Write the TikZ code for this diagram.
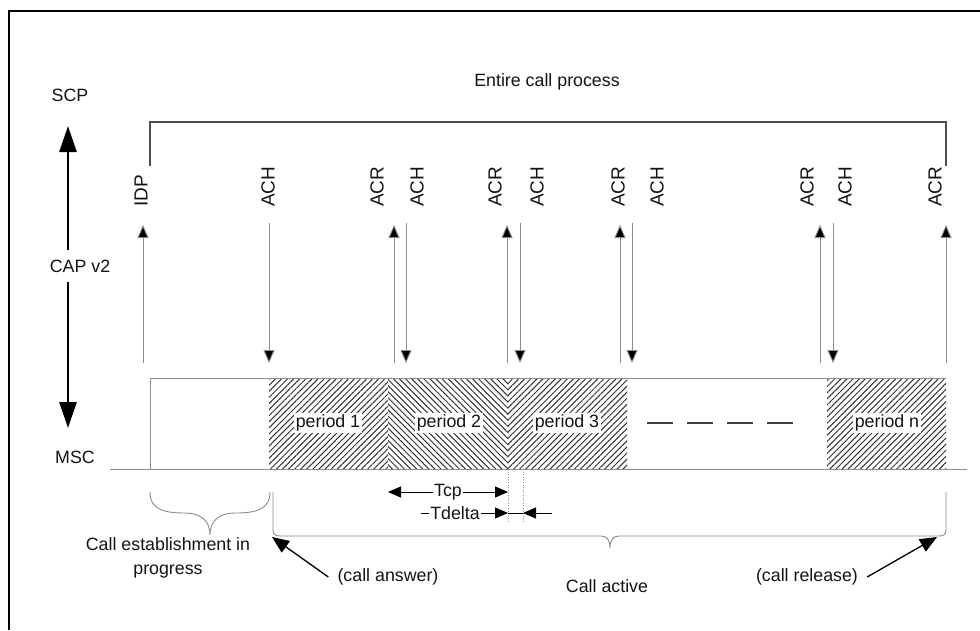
\documentclass[tikz,border=0pt]{standalone}
\usepackage{fontspec}
\setmainfont{Liberation Sans}
\usetikzlibrary{arrows.meta,patterns.meta}
\begin{document}
\begin{tikzpicture}[x=1pt,y=-1pt,
  thinl/.style={draw=black!45, line width=0.9pt},
  msg/.style={thinl, -{Triangle[length=13pt,width=11pt,fill=black]}},
  lbl/.style={font=\fontsize{17.8}{24}\selectfont, text=black!92, inner sep=1pt},
  rlbl/.style={font=\fontsize{19}{20}\selectfont, text=black!92, rotate=90, anchor=west, inner sep=0pt},
  plbl/.style={lbl, fill=white, inner sep=1.5pt},
  hatchA/.style={pattern={Lines[angle=45,distance=4.3pt,line width=1pt]}, pattern color=black!80},
  hatchB/.style={pattern={Lines[angle=-45,distance=4.3pt,line width=1pt]}, pattern color=black!80},
  bigarr/.style={line width=2.8pt, -{Triangle[length=26pt,width=17pt]}},
  dimarr/.style={draw=black, line width=1pt, -{Triangle[length=13pt,width=11pt]}},
  callarr/.style={draw=black, line width=1.3pt, -{Triangle[length=17pt,width=14pt]}},
  brace/.style={draw=black!45, line width=0.9pt}
]
\useasboundingbox (0,0) rectangle (980,630);
\fill[white] (0,0) rectangle (980,630);
% frame (cropped)
\coordinate (f1) at (9,630); \coordinate (f2) at (9,11); \coordinate (f3) at (980,11);
\draw[line width=2pt] (f1) -- (f2) -- (f3);

% left axis
\node[lbl] (scp) at (70,95) {SCP};
\node[lbl] (cap) at (80,266) {CAP v2};
\node[lbl] (msc) at (75,457) {MSC};
\coordinate (ax1) at (68,250); \coordinate (ax1t) at (68,126);
\coordinate (ax2) at (68,282); \coordinate (ax2t) at (68,428);
\draw[bigarr] (ax1) -- (ax1t);
\draw[bigarr] (ax2) -- (ax2t);

% entire call process bracket
\node[lbl] (ecp) at (547,82) {Entire call process};
\coordinate (b1) at (150,166); \coordinate (b2) at (150,122);
\coordinate (b3) at (946,122); \coordinate (b4) at (946,166);
\draw[draw=black!70, line width=1.1pt] (b1) -- (b2) -- (b3) -- (b4);

% hatched periods
\fill[hatchA] (269,378) rectangle (388,469);
\fill[hatchB] (388,378) rectangle (508,469);
\fill[hatchA] (508,378) rectangle (627,469);
\fill[hatchA] (827,378) rectangle (946,469);
\node[plbl] (p1) at (328,423) {period 1};
\node[plbl] (p2) at (449,423) {period 2};
\node[plbl] (p3) at (567,423) {period 3};
\node[plbl] (pn) at (887,423) {period n};
\coordinate (ds1) at (647,423); \coordinate (ds2) at (793,423);
\draw[draw=black!75, line width=1.6pt, dash pattern=on 26pt off 14pt] (ds1) -- (ds2);

% state box and baseline
\coordinate (r1) at (150,469); \coordinate (r2) at (150,378); \coordinate (r3) at (946,378);
\draw[thinl] (r1) -- (r2) -- (r3);
\coordinate (bl1) at (110,469); \coordinate (bl2) at (967,469);
\draw[thinl] (bl1) -- (bl2);

% message labels
\node[rlbl] (lIDP) at (141,207) {IDP};
\node[rlbl] (lACH1) at (268,207) {ACH};
\node[rlbl] (lACR1) at (377,207) {ACR};
\node[rlbl] (lACH2) at (417,207) {ACH};
\node[rlbl] (lACR2) at (495,207) {ACR};
\node[rlbl] (lACH3) at (537,207) {ACH};
\node[rlbl] (lACR3) at (618,207) {ACR};
\node[rlbl] (lACH4) at (657,207) {ACH};
\node[rlbl] (lACR4) at (807,207) {ACR};
\node[rlbl] (lACH5) at (845,207) {ACH};
\node[rlbl] (lACR5) at (935,207) {ACR};

% up arrows (IDP, ACR)
\foreach \n/\x in {u0/143,u1/394,u2/507,u3/620,u4/820,u5/946}{
  \coordinate (\n b) at (\x,363); \coordinate (\n t) at (\x,225);
  \draw[msg] (\n b) -- (\n t);
}
% down arrows (ACH)
\foreach \n/\x in {d1/269,d2/406,d3/520,d4/632,d5/833}{
  \coordinate (\n t) at (\x,223); \coordinate (\n b) at (\x,363);
  \draw[msg] (\n t) -- (\n b);
}

% Tcp / Tdelta
\coordinate (v1t) at (508,469); \coordinate (v1b) at (508,523);
\coordinate (v2t) at (523,469); \coordinate (v2b) at (523,523);
\draw[draw=black!45, line width=0.6pt, dotted] (v1t) -- (v1b);
\draw[draw=black!45, line width=0.6pt, dotted] (v2t) -- (v2b);
\coordinate (tc1) at (388,492); \coordinate (tc2) at (508,492);
\draw[dimarr, {Triangle[length=13pt,width=11pt]}-{Triangle[length=13pt,width=11pt]}] (tc1) -- (tc2);
\node[plbl, inner sep=1pt] (tcp) at (448,492) {Tcp};
\coordinate (td0) at (421,513); \coordinate (td1) at (508,513);
\coordinate (td2) at (523,513); \coordinate (td3) at (552,513);
\draw[dimarr] (td0) -- (td1);
\draw[draw=black, line width=1pt] (td1) -- (td2);
\draw[dimarr] (td3) -- (td2);
\node[plbl, inner sep=1pt] (tdl) at (455,513) {Tdelta};

% braces
\draw[brace] (150,492) .. controls (150,510) and (165,513) .. (185,513)
  .. controls (200,513) and (210,520) .. (210,535)
  .. controls (210,520) and (220,513) .. (235,513)
  .. controls (255,513) and (270,510) .. (270,492);
\draw[brace] (273,492) -- (273,530) .. controls (273,534) and (275,536) .. (280,536)
  -- (601,536) .. controls (607,536) and (610,540) .. (610,548)
  .. controls (610,540) and (613,536) .. (619,536)
  -- (939,536) .. controls (944,536) and (946,534) .. (946,530) -- (946,492);

\node[lbl, align=center] (est) at (168,558) {Call establishment in\\progress};
\node[lbl] (act) at (607,586) {Call active};
\node[lbl] (ans) at (388,577) {(call answer)};
\node[lbl] (rel) at (807,577) {(call release)};
\coordinate (ansT) at (272,537);
\coordinate (relT) at (937,537);
\draw[callarr] (ans.west) ++(-8,0) coordinate (ansS) -- (ansT);
\draw[callarr] (rel.east) ++(8,0) coordinate (relS) -- (relT);
\end{tikzpicture}
\end{document}
